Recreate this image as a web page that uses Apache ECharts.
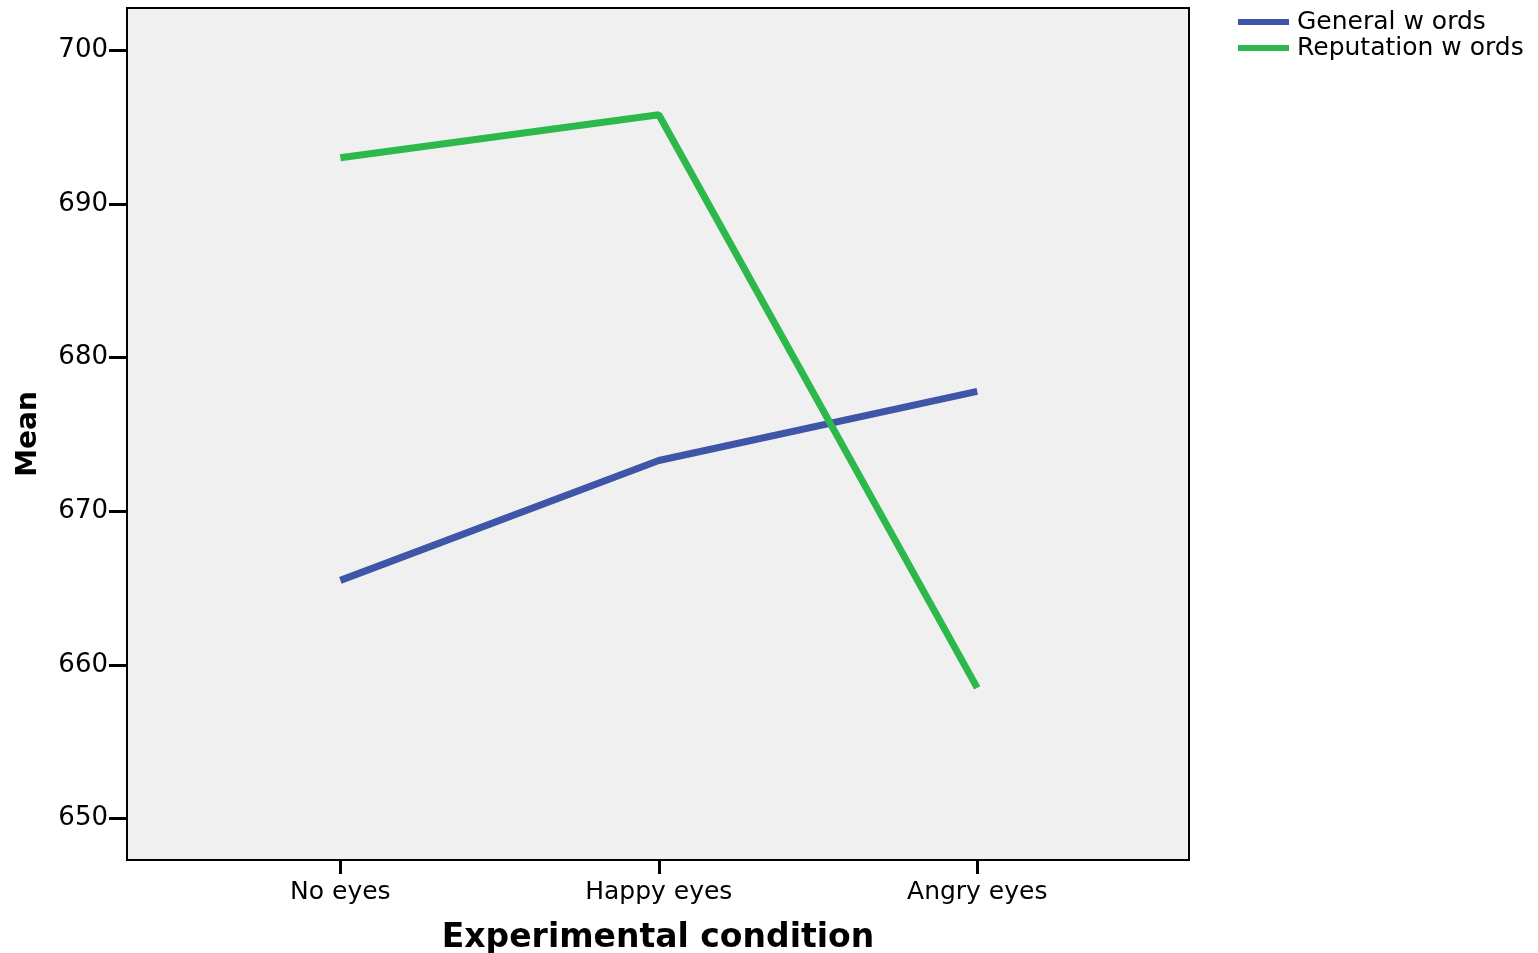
<!DOCTYPE html>
<html>
<head>
<meta charset="utf-8">
<script src="https://cdn.jsdelivr.net/npm/echarts@6/dist/echarts.min.js"></script>
<style>html,body{margin:0;padding:0;background:#fff;}#c{width:1538px;height:953px;}</style>
</head>
<body>
<div id="c"></div>
<script>
const categories = ['No eyes', 'Happy eyes', 'Angry eyes'];
const generalWords = [665.5, 673.3, 677.8];
const reputationWords = [693.0, 695.8, 658.5];
const yTicks = [650, 660, 670, 680, 690, 700];
const seriesNames = ['General w ords', 'Reputation w ords'];

const toPoints = arr => arr.map((v, i) => [i, v]);
const chart = echarts.init(document.getElementById('c'));
chart.setOption({
  animation: false,
  grid: {
    left: 127, right: 349, top: 8, bottom: 93,
    outerBoundsMode: 'none', containLabel: false,
    show: true, backgroundColor: '#f0f0f0', borderColor: '#000', borderWidth: 2
  },
  legend: {
    orient: 'vertical', left: 1238, top: 9, itemGap: 0, padding: 0,
    icon: 'rect', itemWidth: 51, itemHeight: 6,
    textStyle: { fontFamily: 'DejaVu Sans', fontSize: 25, color: '#000', lineHeight: 26, padding: [0, 0, 0, 3] },
    data: seriesNames
  },
  xAxis: {
    type: 'value', min: -0.67, max: 2.665,
    splitLine: { show: false },
    axisLine: { show: true, onZero: false, lineStyle: { color: '#000', width: 2 } },
    axisTick: { show: true, customValues: [0, 1, 2], length: 14, lineStyle: { color: '#000', width: 3 } },
    axisLabel: {
      customValues: [0, 1, 2], margin: 20,
      formatter: v => categories[Math.round(v)],
      fontFamily: 'DejaVu Sans', fontSize: 25, color: '#000'
    },
    name: 'Experimental condition', nameLocation: 'middle', nameGap: 62,
    nameTextStyle: { fontFamily: 'DejaVu Sans', fontWeight: 'bold', fontSize: 33, color: '#000' }
  },
  yAxis: {
    type: 'value', min: 647.3, max: 702.75,
    splitLine: { show: false },
    axisLine: { show: true, onZero: false, lineStyle: { color: '#000', width: 2 } },
    axisTick: { show: true, customValues: yTicks, length: 18, lineStyle: { color: '#000', width: 3 } },
    axisLabel: {
      customValues: yTicks, margin: 19,
      fontFamily: 'DejaVu Sans', fontSize: 26, color: '#000'
    },
    name: 'Mean', nameLocation: 'middle', nameGap: 84,
    nameTextStyle: { fontFamily: 'DejaVu Sans', fontWeight: 'bold', fontSize: 28, color: '#000' }
  },
  series: [
    {
      name: seriesNames[0], type: 'line', data: toPoints(generalWords),
      symbol: 'none', color: '#3f55a8',
      lineStyle: { width: 7, color: '#3f55a8' }
    },
    {
      name: seriesNames[1], type: 'line', data: toPoints(reputationWords),
      symbol: 'none', color: '#2db84b',
      lineStyle: { width: 7, color: '#2db84b' }
    }
  ]
});
</script>
</body>
</html>
